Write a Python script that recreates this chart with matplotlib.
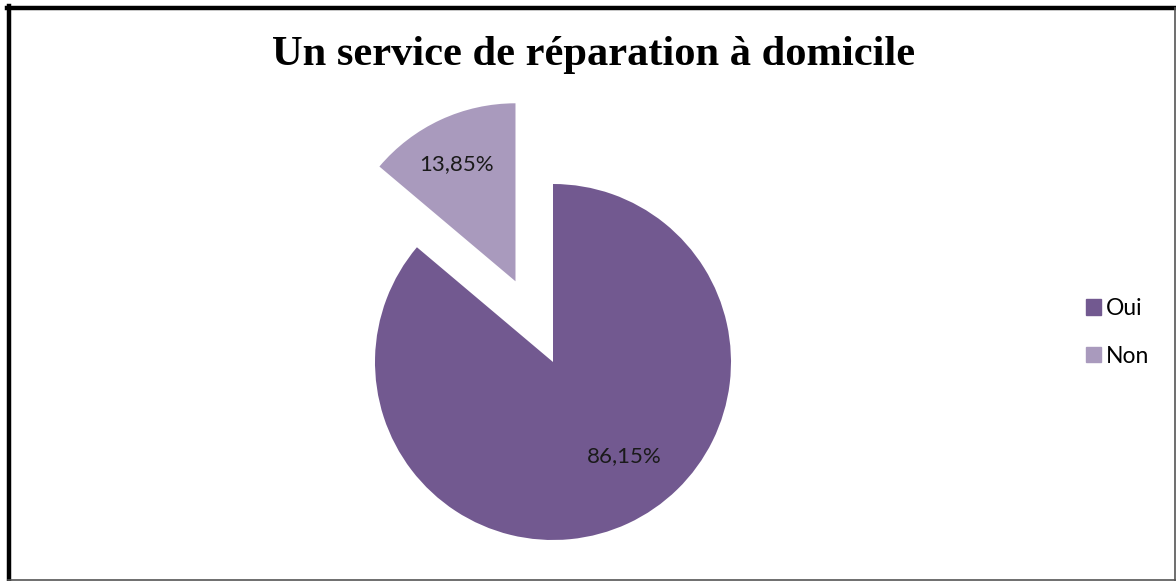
import matplotlib
matplotlib.use("Agg")
import matplotlib.pyplot as plt
import numpy as np
from matplotlib.lines import Line2D
from matplotlib.patches import Rectangle

labels = ["Oui", "Non"]
values = [86.15, 13.85]
colors = ["#725990", "#A99ABD"]
explode = [0, 0.5]
label_pos = [(0.40, -0.53), (-0.33, 0.66)]  # relative to each slice centre, in radii

fig = plt.figure(figsize=(11.76, 5.81), dpi=100)
ax = fig.add_axes([0, 0, 1, 1])

wedges, _ = ax.pie(
    values,
    colors=colors,
    explode=explode,
    startangle=90,
    counterclock=False,
    radius=1,
    wedgeprops={"linewidth": 0},
)

# pie centre at (553, 362) px from top-left, radius 178 px
scale = 178
cx, cy = 553, 362
ax.set_xlim(-cx / scale, (1176 - cx) / scale)
ax.set_ylim(-(581 - cy) / scale, cy / scale)
ax.set_aspect("auto")
ax.axis("off")

for w, v, (lx, ly) in zip(wedges, values, label_pos):
    ox, oy = w.center
    ax.text(ox + lx, oy + ly, f"{v:.2f}%".replace(".", ","),
            ha="center", va="center", fontsize=16, family="Lato",
            color="#1a1a1a")

fig.text(0.5045, 0.905, "Un service de réparation à domicile",
         ha="center", va="center", fontsize=30.6, fontweight="bold",
         family="Liberation Serif")

handles = [Rectangle((0, 0), 1, 1, color=c) for c in colors]
fig.legend(handles, labels, loc="center left", bbox_to_anchor=(0.906, 0.428),
           frameon=False, prop={"family": "Lato", "size": 16.5},
           handlelength=0.66, handleheight=0.66, handletextpad=0.2,
           labelspacing=1.15)

# chart frame: heavy top/left, thin right/bottom
fig.add_artist(Line2D([8.5 / 1176, 8.5 / 1176], [0, 1 - 6 / 581],
                      transform=fig.transFigure, color="black", lw=3.2))
fig.add_artist(Line2D([7 / 1176, 1], [1 - 8 / 581, 1 - 8 / 581],
                      transform=fig.transFigure, color="black", lw=3.2))
fig.add_artist(Line2D([1 - 1 / 1176, 1 - 1 / 1176], [0, 1 - 8 / 581],
                      transform=fig.transFigure, color="#555555", lw=1.2))
fig.add_artist(Line2D([8 / 1176, 1], [0.7 / 581, 0.7 / 581],
                      transform=fig.transFigure, color="#555555", lw=1.2))

fig.savefig("out.png", dpi=100)
